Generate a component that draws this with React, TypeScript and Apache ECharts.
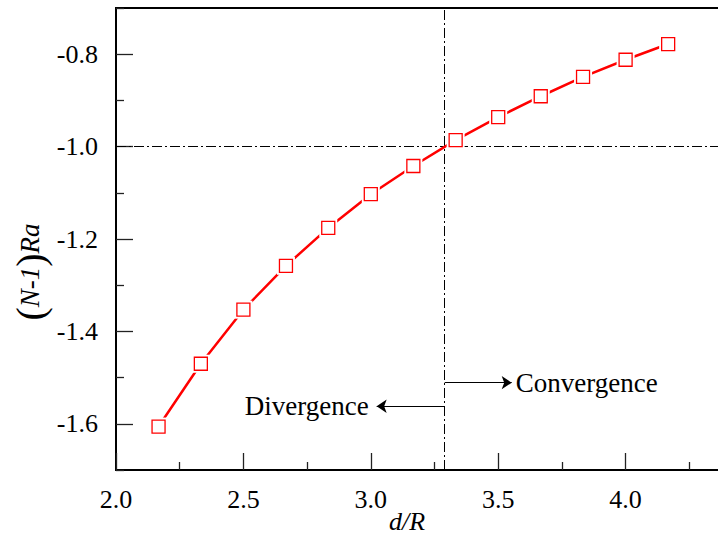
import React, { useEffect, useRef } from "react";
import * as echarts from "echarts";

const dR = [2.167, 2.333, 2.5, 2.667, 2.833, 3.0, 3.167, 3.333, 3.5, 3.667, 3.833, 4.0, 4.167];
const nRa = [-1.606, -1.47, -1.353, -1.258, -1.176, -1.103, -1.042, -0.986, -0.936, -0.891, -0.849, -0.812, -0.778];
const yMajorTicks = [-1.6, -1.4, -1.2, -1.0, -0.8];
const yMinorTicks = [-1.7, -1.5, -1.3, -1.1, -0.9, -0.7];
const criticalX = 3.29;
const criticalY = -1.0;
const convergenceArrow = [[3.29, -1.511], [3.553, -1.511]];
const divergenceArrow = [[3.29, -1.562], [3.023, -1.562]];

const FONT = "Times New Roman";

export default function App() {
  const ref = useRef<HTMLDivElement>(null);
  useEffect(() => {
    const chart = echarts.init(ref.current!, null, { renderer: "svg" });
    const dashDot = { color: "#000", width: 1, type: [10, 3, 2, 3] as any };
    const points = dR.map((x, i) => [x, nRa[i]]);
    chart.setOption({
      animation: false,
      backgroundColor: "#fff",
      textStyle: { fontFamily: FONT },
      grid: {
        left: 116,
        top: 8,
        bottom: 70,
        right: -35,
        show: true,
        borderColor: "#000",
        borderWidth: 2,
        outerBoundsMode: "none",
      },
      xAxis: {
        type: "value",
        min: 2,
        max: 4.5,
        interval: 0.5,
        axisLine: { show: true, lineStyle: { color: "#000", width: 2 } },
        axisTick: { show: true, inside: true, length: 17, lineStyle: { color: "#222", width: 1.3 } },
        minorTick: { show: true, splitNumber: 2, length: 8, lineStyle: { color: "#222", width: 1.3 } },
        axisLabel: {
          color: "#000",
          fontFamily: FONT,
          fontSize: 26,
          margin: 16,
          showMaxLabel: false,
          formatter: (v: number) => (v > 4.4 ? "" : v.toFixed(1)),
        },
        splitLine: { show: false },
        minorSplitLine: { show: false },
      },
      yAxis: [
        {
          type: "value",
          min: -1.7,
          max: -0.7,
          position: "left",
          axisLine: { show: true, lineStyle: { color: "#000", width: 2 } },
          axisTick: {
            show: true,
            inside: true,
            length: 17,
            customValues: yMajorTicks,
            lineStyle: { color: "#222", width: 1.3 },
          },
          axisLabel: {
            customValues: yMajorTicks,
            color: "#000",
            fontFamily: FONT,
            fontSize: 26,
            margin: 18,
            formatter: (v: number) => v.toFixed(1),
          },
          splitLine: { show: false },
        },
        {
          type: "value",
          min: -1.7,
          max: -0.7,
          position: "left",
          axisLine: { show: false },
          axisTick: {
            show: true,
            inside: true,
            length: 8,
            customValues: yMinorTicks,
            lineStyle: { color: "#222", width: 1.3 },
          },
          axisLabel: { show: false },
          splitLine: { show: false },
        },
      ],
      graphic: [
        {
          type: "text",
          x: 30,
          y: 272,
          rotation: Math.PI / 2,
          style: {
            text: "{p|(}{i|N-1}{p|)}{i|Ra}",
            align: "center",
            verticalAlign: "middle",
            fill: "#000",
            rich: {
              p: { fontSize: 40, fontFamily: FONT, fill: "#000", verticalAlign: "middle", lineHeight: 40 },
              i: { fontSize: 27, fontFamily: FONT, fontStyle: "italic", fill: "#000", verticalAlign: "middle", lineHeight: 40 },
            },
          },
        },
        {
          type: "text",
          x: 407,
          y: 521,
          style: {
            text: "d/R",
            align: "center",
            verticalAlign: "middle",
            fontFamily: FONT,
            fontStyle: "italic",
            fontSize: 26,
            fill: "#000",
          },
        },
      ],
      series: [
        {
          type: "line",
          data: points,
          symbol: "none",
          lineStyle: { color: "#ff0000", width: 2.5 },
          z: 2,
          markLine: {
            silent: true,
            symbol: "none",
            animation: false,
            z: 1,
            label: { show: false },
            data: [
              { yAxis: criticalY, lineStyle: dashDot },
              { xAxis: criticalX, lineStyle: dashDot },
              [
                {
                  coord: convergenceArrow[0],
                  symbol: "none",
                  lineStyle: { color: "#000", width: 1, type: "solid" },
                  label: {
                    show: true,
                    position: "end",
                    formatter: "Convergence",
                    color: "#000",
                    fontFamily: FONT,
                    fontSize: 27,
                    distance: 4,
                  },
                },
                { coord: convergenceArrow[1], symbol: "arrow", symbolSize: 10 },
              ],
              [
                {
                  coord: divergenceArrow[0],
                  symbol: "none",
                  lineStyle: { color: "#000", width: 1, type: "solid" },
                  label: {
                    show: true,
                    position: "end",
                    formatter: "Divergence",
                    color: "#000",
                    fontFamily: FONT,
                    fontSize: 27,
                    distance: 8,
                  },
                },
                { coord: divergenceArrow[1], symbol: "arrow", symbolSize: 10 },
              ],
            ],
          },
        },
        {
          type: "scatter",
          data: points,
          symbol: "rect",
          symbolSize: 18,
          itemStyle: { color: "#fff", borderWidth: 0, opacity: 1 },
          silent: true,
          z: 3,
        },
        {
          type: "scatter",
          data: points,
          symbol: "rect",
          symbolSize: 13,
          itemStyle: { color: "#fff", borderColor: "#ff0000", borderWidth: 1.3, opacity: 1 },
          z: 4,
        },
      ],
    });
    return () => chart.dispose();
  }, []);
  return (
    <div
      ref={ref}
      style={{ position: "fixed", left: 0, top: 0, width: 718, height: 540, background: "#fff" }}
    />
  );
}
